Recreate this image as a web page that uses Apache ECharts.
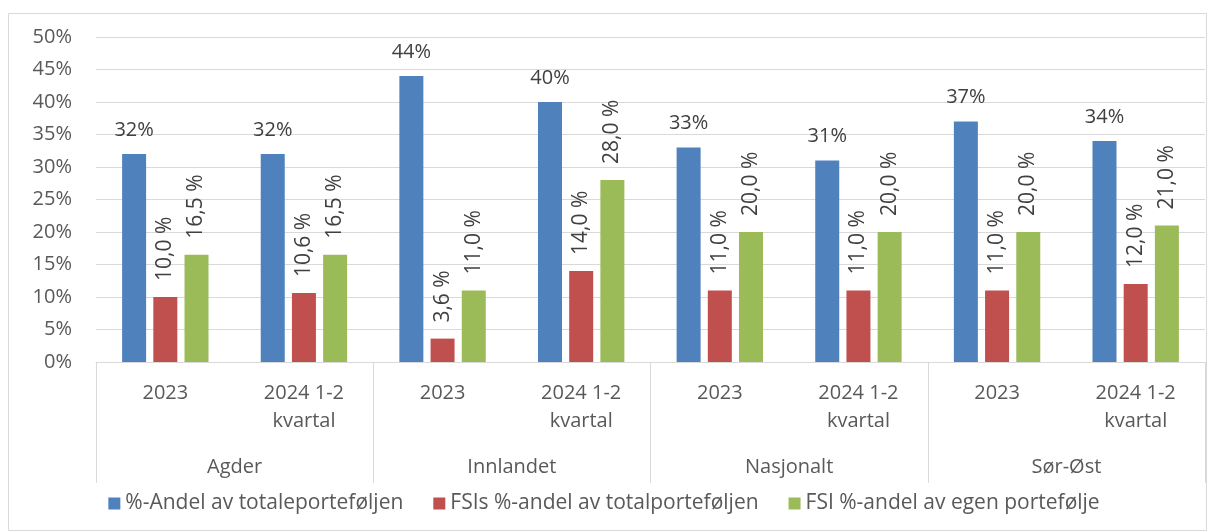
<!DOCTYPE html>
<html>
<head>
<meta charset="utf-8">
<script src="https://cdn.jsdelivr.net/npm/echarts@6/dist/echarts.min.js"></script>
<style>
    html, body { margin: 0; padding: 0; background: #fff; }
    #chart { width: 1208px; height: 532px; }
</style>
</head>
<body>
<div id="chart"></div>
<script>
    // kategorier (periode) og grupper (region)
    var periods = ['2023', '2024 1-2\nkvartal', '2023', '2024 1-2\nkvartal', '2023', '2024 1-2\nkvartal', '2023', '2024 1-2\nkvartal'];
    var regions = ['Agder', 'Innlandet', 'Nasjonalt', 'Sør-Øst'];
    var seriesNames = ['%-Andel av totaleporteføljen', 'FSIs %-andel av totalporteføljen', 'FSI %-andel av egen portefølje'];
    var andelTotal = [32, 32, 44, 40, 33, 31, 37, 34];
    var fsiTotal = [10.0, 10.6, 3.6, 14.0, 11.0, 11.0, 11.0, 12.0];
    var fsiEgen = [16.5, 16.5, 11.0, 28.0, 20.0, 20.0, 20.0, 21.0];
    var yTicks = { min: 0, max: 50, interval: 5 };

    var chart = echarts.init(document.getElementById('chart'));
    var font = '"Open Sans", "Liberation Sans", sans-serif';
    var gray = '#d9d9d9';

    var commaLabel = function (p) {
        return p.value.toFixed(1).replace('.', ',') + ' %';
    };
    var rotLabel = {
        show: true,
        position: 'top',
        rotate: 90,
        align: 'left',
        verticalAlign: 'middle',
        distance: 16,
        color: '#404040',
        fontSize: 21,
        fontFamily: font,
        formatter: commaLabel
    };

    var option = {
        animation: false,
        textStyle: { fontFamily: font },
        graphic: [{
            type: 'rect',
            shape: { x: 8.5, y: 13.5, width: 1198, height: 517 },
            style: { fill: 'none', stroke: gray, lineWidth: 1 },
            z: -1
        }],
        legend: {
            bottom: 13,
            left: 'center',
            itemWidth: 12,
            itemHeight: 12,
            itemGap: 30,
            icon: 'rect',
            textStyle: { color: '#595959', fontSize: 21, fontFamily: font },
            data: seriesNames
        },
        grid: { left: 96, right: 3, top: 37, bottom: 170 },
        xAxis: [
            {
                type: 'category',
                data: periods,
                axisLine: { lineStyle: { color: gray } },
                axisTick: { show: false },
                axisLabel: {
                    interval: 0,
                    margin: 17,
                    color: '#595959',
                    fontSize: 20,
                    lineHeight: 28,
                    fontFamily: font
                }
            },
            {
                type: 'category',
                data: regions,
                position: 'bottom',
                axisLine: { show: false },
                axisTick: { show: true, length: 121, interval: 0, lineStyle: { color: gray } },
                axisLabel: {
                    interval: 0,
                    margin: 95,
                    color: '#595959',
                    fontSize: 20,
                    fontFamily: font
                }
            }
        ],
        yAxis: {
            type: 'value',
            min: yTicks.min,
            max: yTicks.max,
            interval: yTicks.interval,
            axisLine: { show: false },
            axisTick: { show: false },
            splitLine: { lineStyle: { color: gray } },
            axisLabel: {
                margin: 24,
                color: '#595959',
                fontSize: 20,
                fontFamily: font,
                formatter: '{value}%'
            }
        },
        series: [
            {
                name: seriesNames[0],
                type: 'bar',
                barWidth: 24,
                barGap: '30%',
                itemStyle: { color: '#4f81bd' },
                label: {
                    show: true,
                    position: 'top',
                    distance: 14,
                    color: '#404040',
                    fontSize: 20,
                    fontFamily: font,
                    formatter: '{c}%'
                },
                data: andelTotal
            },
            {
                name: seriesNames[1],
                type: 'bar',
                barWidth: 24,
                barGap: '30%',
                itemStyle: { color: '#c0504d' },
                label: rotLabel,
                data: fsiTotal
            },
            {
                name: seriesNames[2],
                type: 'bar',
                barWidth: 24,
                barGap: '30%',
                itemStyle: { color: '#9bbb59' },
                label: rotLabel,
                data: fsiEgen
            }
        ]
    };
    chart.setOption(option);
</script>
</body>
</html>
